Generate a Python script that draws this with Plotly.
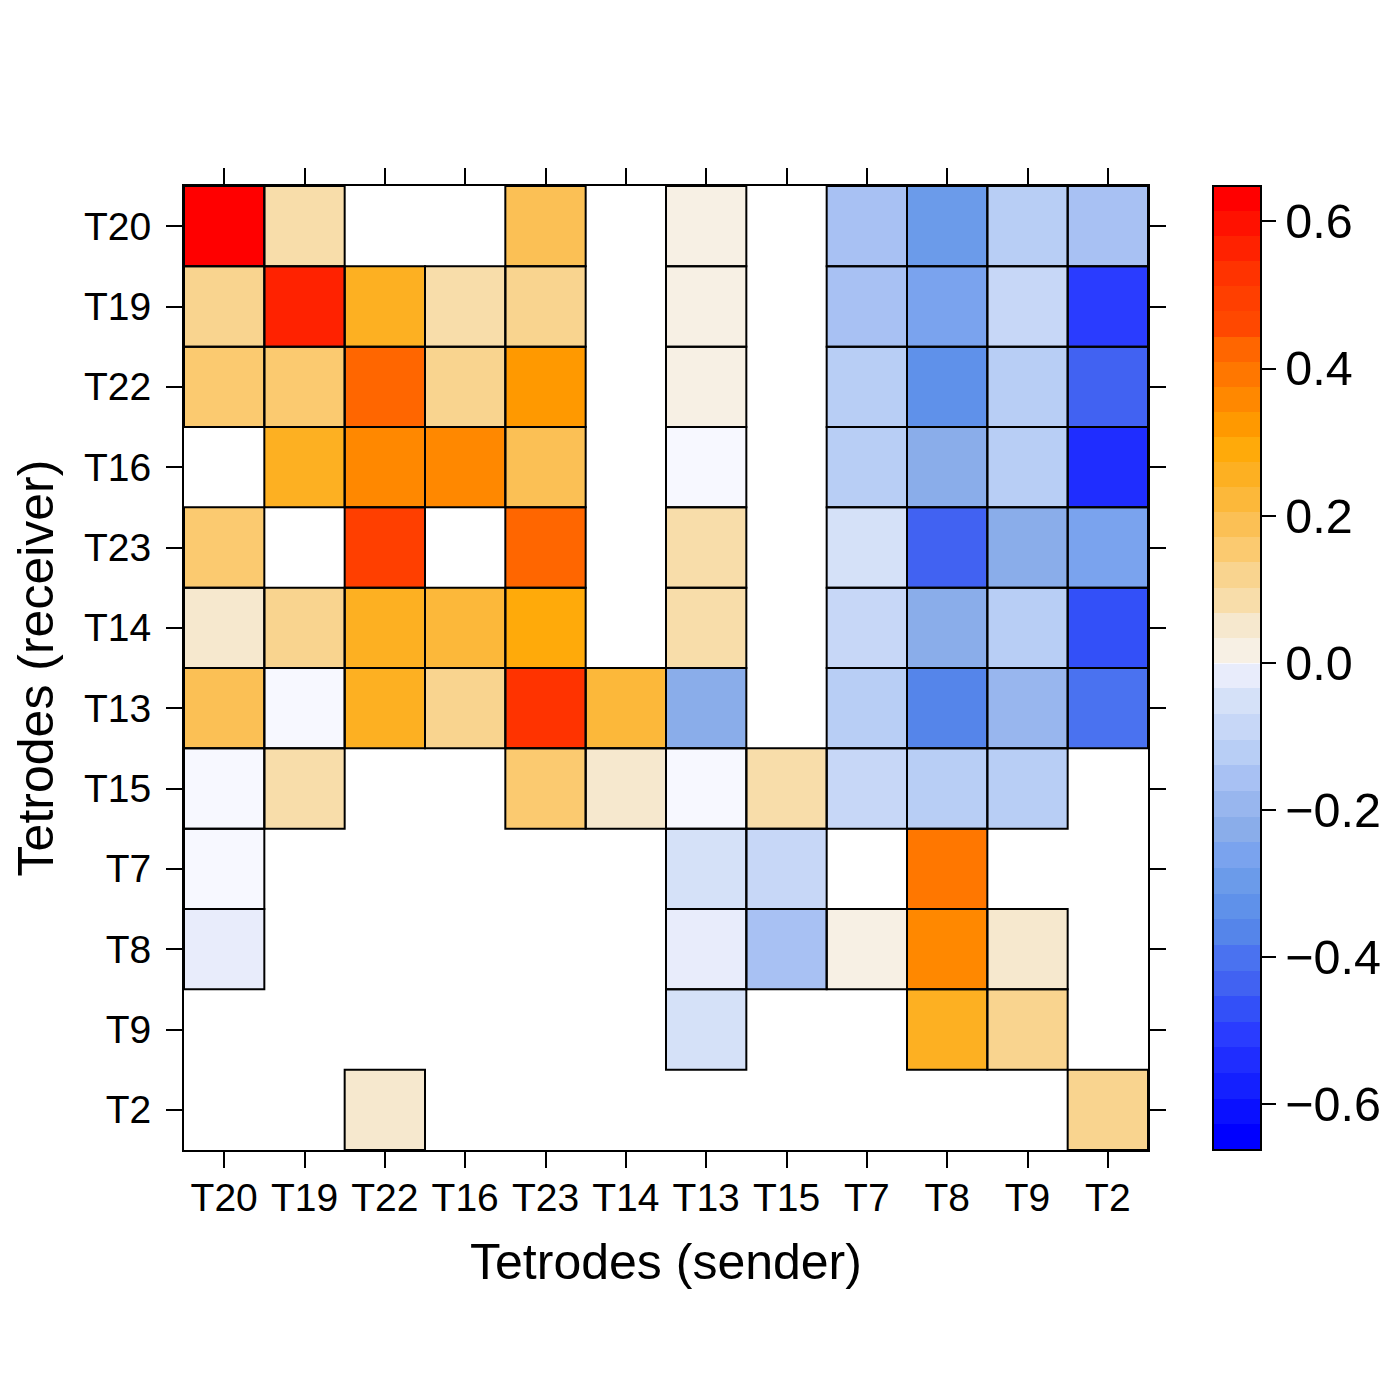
import numpy as np
import plotly.graph_objects as go

nan = np.nan

# Tetrode order is the same on both axes
senders = ['T20', 'T19', 'T22', 'T16', 'T23', 'T14', 'T13', 'T15', 'T7', 'T8', 'T9', 'T2']
receivers = ['T20', 'T19', 'T22', 'T16', 'T23', 'T14', 'T13', 'T15', 'T7', 'T8', 'T9', 'T2']

# One row per receiver
row_t20 = [0.64, 0.09, nan, nan, 0.19, nan, 0.03, nan, -0.17, -0.30, -0.13, -0.15]
row_t19 = [0.13, 0.55, 0.25, 0.09, 0.12, nan, 0.03, nan, -0.17, -0.26, -0.08, -0.50]
row_t22 = [0.17, 0.15, 0.43, 0.11, 0.32, nan, 0.03, nan, -0.11, -0.34, -0.13, -0.44]
row_t16 = [nan, 0.24, 0.37, 0.37, 0.19, nan, -0.0005, nan, -0.13, -0.22, -0.12, -0.54]
row_t23 = [0.16, nan, 0.48, nan, 0.44, nan, 0.09, nan, -0.05, -0.43, -0.23, -0.26]
row_t14 = [0.05, 0.13, 0.24, 0.22, 0.30, nan, 0.09, nan, -0.09, -0.23, -0.12, -0.47]
row_t13 = [0.19, -0.0005, 0.25, 0.12, 0.52, 0.22, -0.23, nan, -0.12, -0.36, -0.20, -0.40]
row_t15 = [-0.0005, 0.09, nan, nan, 0.16, 0.06, -0.0005, 0.09, -0.09, -0.12, -0.13, nan]
row_t7 = [-0.0005, nan, nan, nan, nan, nan, -0.05, -0.08, nan, 0.39, nan, nan]
row_t8 = [-0.03, nan, nan, nan, nan, nan, -0.02, -0.15, 0.03, 0.37, 0.05, nan]
row_t9 = [nan, nan, nan, nan, nan, nan, -0.05, nan, nan, 0.25, 0.12, nan]
row_t2 = [nan, nan, 0.05, nan, nan, nan, nan, nan, nan, nan, nan, 0.11]

z = [row_t20, row_t19, row_t22, row_t16, row_t23, row_t14,
     row_t13, row_t15, row_t7, row_t8, row_t9, row_t2]

# Colour bands of the key, from 0 outwards
pos_colors = ['#F7F0E4', '#F6E8CE', '#F8DDAA', '#F9D48F', '#FBCA70', '#FBC055',
              '#FCB83A', '#FDB022', '#FFAA0A', '#FF9900', '#FF8800', '#FF7700',
              '#FF6600', '#FF4800', '#FF3F00', '#FF3300', '#FF2200', '#FF1100', '#FF0000']
neg_colors = ['#E8ECFB', '#D5E1F8', '#C7D7F7', '#B8CEF5', '#A8C1F3', '#98B6EE',
              '#8AADEA', '#7AA3EE', '#6B9BEA', '#5F91EA', '#5585EA', '#4A72F0',
              '#4162F2', '#3350F8', '#2A3CFF', '#1F2DFF', '#1420FF', '#0A10FF', '#0000FF']
near_zero_color = '#F7F8FF'  # cells just under 0 are paler than the first key band
zmin = -0.662
zmax = 0.648

# Stepped colorscale, two stops per band
edges = list(np.linspace(zmin, 0, 20)) + list(np.linspace(0, zmax, 20))[1:]
colors = neg_colors[::-1] + pos_colors
colorscale = []
for i, c in enumerate(colors):
    colorscale.append([(edges[i] - zmin) / (zmax - zmin), c])
    if edges[i + 1] == 0:
        # very thin sliver for the near-zero cells
        colorscale.append([(-0.001 - zmin) / (zmax - zmin), c])
        colorscale.append([(-0.001 - zmin) / (zmax - zmin), near_zero_color])
        colorscale.append([(0 - zmin) / (zmax - zmin), near_zero_color])
    else:
        colorscale.append([(edges[i + 1] - zmin) / (zmax - zmin), c])

fig = go.Figure(go.Heatmap(
    z=z, x=senders, y=receivers, zmin=zmin, zmax=zmax, colorscale=colorscale,
    hoverongaps=False,
    colorbar=dict(
        x=1.0674, xanchor='left', xpad=0, y=0.5, yanchor='middle', ypad=0,
        len=1, thickness=48, outlinecolor='black', outlinewidth=2,
        tickvals=[-0.6, -0.4, -0.2, 0.0, 0.2, 0.4, 0.6], tickformat='.1f',
        ticks='outside', ticklen=14, tickwidth=2, tickcolor='black',
        tickfont=dict(size=48.5, color='black'),
    ),
))

# Black outline only round cells that hold a value
for r, row in enumerate(z):
    for c, v in enumerate(row):
        if not np.isnan(v):
            fig.add_shape(type='rect', xref='x', yref='y', x0=c - 0.5, x1=c + 0.5,
                          y0=r - 0.5, y1=r + 0.5, line=dict(color='black', width=2))

fig.update_xaxes(
    title=dict(text='Tetrodes (sender)', font=dict(size=50, color='black'), standoff=26),
    range=[-0.5, 11.5], showgrid=False, zeroline=False, showline=True, linecolor='black',
    linewidth=2, mirror='ticks', ticks='outside', ticklen=16, tickwidth=2, tickcolor='black',
    tickfont=dict(size=39, color='black'), tickangle=0, ticklabelstandoff=-4,
)
fig.update_yaxes(
    title=dict(text='Tetrodes (receiver)', font=dict(size=50, color='black'), standoff=17),
    range=[11.5, -0.5], showgrid=False, zeroline=False, showline=True, linecolor='black',
    linewidth=2, mirror='ticks', ticks='outside', ticklen=16, tickwidth=2, tickcolor='black',
    tickfont=dict(size=39, color='black'), ticklabelstandoff=7,
)
# the page body adds 8px, so the margins are set 8px off the target positions
fig.update_layout(
    width=1400, height=1400,
    margin=dict(l=176, r=260, t=178, b=258, autoexpand=False),
    paper_bgcolor='white', plot_bgcolor='white',
    font=dict(family='Liberation Sans', color='black'),
)

fig.write_html("out.html")
